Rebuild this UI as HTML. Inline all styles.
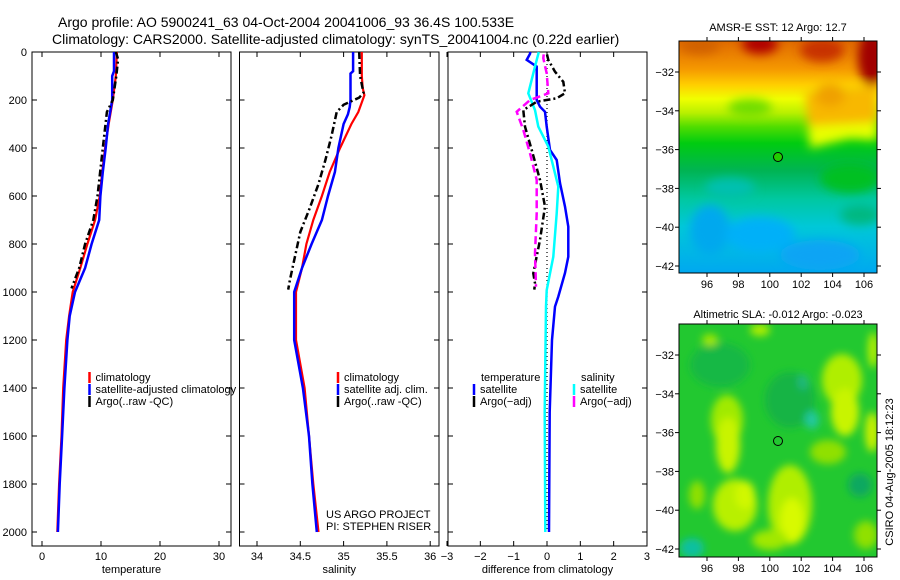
<!DOCTYPE html>
<html><head><meta charset="utf-8">
<style>
html,body{margin:0;padding:0;background:#fff;}
svg{display:block;font-family:"Liberation Sans",sans-serif;}
</style></head>
<body>
<svg id="chart" width="900" height="580" viewBox="0 0 900 580" xmlns="http://www.w3.org/2000/svg">
<defs>
<filter id="blur1" x="-20%" y="-20%" width="140%" height="140%"><feGaussianBlur stdDeviation="5"/></filter>
<filter id="blur2" x="-20%" y="-20%" width="140%" height="140%"><feGaussianBlur stdDeviation="4"/></filter>
<clipPath id="clipM1"><rect x="679" y="41" width="198" height="232"/></clipPath>
<clipPath id="clipM2"><rect x="679" y="324" width="198" height="233"/></clipPath>
<linearGradient id="sstGrad" x1="0" y1="0" x2="0" y2="1">
<stop offset="0" stop-color="#e06a00"/>
<stop offset="0.12" stop-color="#f59800"/>
<stop offset="0.19" stop-color="#ffd000"/>
<stop offset="0.25" stop-color="#f0ff00"/>
<stop offset="0.31" stop-color="#b8f000"/>
<stop offset="0.37" stop-color="#50dd00"/>
<stop offset="0.44" stop-color="#00cc10"/>
<stop offset="0.56" stop-color="#00b454"/>
<stop offset="0.68" stop-color="#00c8a0"/>
<stop offset="0.80" stop-color="#00c8d8"/>
<stop offset="1" stop-color="#00a8f0"/>
</linearGradient>
</defs>

<text x="58" y="27" font-size="14">Argo profile: AO 5900241_63 04-Oct-2004 20041006_93 36.4S 100.533E</text>
<text x="52" y="44" font-size="14">Climatology: CARS2000. Satellite-adjusted climatology: synTS_20041004.nc (0.22d earlier)</text>

<g id="panels"></g>

<!-- SST map -->
<g>
<text x="778" y="31" font-size="11" text-anchor="middle">AMSR-E SST: 12 Argo: 12.7</text>
<g clip-path="url(#clipM1)">
<rect x="679" y="41" width="198" height="232" fill="url(#sstGrad)"/>
<g filter="url(#blur1)">
<ellipse cx="760" cy="44" rx="18" ry="10" fill="#b00000"/>
<ellipse cx="822" cy="50" rx="22" ry="12" fill="#c83000"/>
<ellipse cx="872" cy="58" rx="14" ry="28" fill="#a00000"/>
<ellipse cx="700" cy="46" rx="20" ry="8" fill="#d06000"/>
<polygon points="805,92 877,85 877,128 850,128 820,130 808,125" fill="#f8b800"/>
<ellipse cx="830" cy="95" rx="15" ry="12" fill="#f0a000"/>
<polygon points="808,126 877,122 877,140 850,138 810,148" fill="#e8ff00"/>
<ellipse cx="750" cy="108" rx="22" ry="9" fill="#70dd00"/>
<ellipse cx="730" cy="188" rx="25" ry="10" fill="#00c0b0"/>
<ellipse cx="850" cy="178" rx="30" ry="15" fill="#00c020"/>
<ellipse cx="710" cy="230" rx="20" ry="25" fill="#00a8ee"/>
<ellipse cx="760" cy="235" rx="35" ry="18" fill="#00b0f8"/>
<ellipse cx="860" cy="215" rx="20" ry="10" fill="#00b880"/>
<ellipse cx="820" cy="255" rx="40" ry="15" fill="#0aa4f4"/>
</g>
</g>
<rect x="679" y="41" width="198" height="232" fill="none" stroke="#000" stroke-width="1"/>
<circle cx="778" cy="157" r="4.5" fill="#22cc00" stroke="#000" stroke-width="1"/>
</g>

<!-- SLA map -->
<g>
<text x="778" y="318" font-size="11" text-anchor="middle">Altimetric SLA: -0.012 Argo: -0.023</text>
<g clip-path="url(#clipM2)">
<rect x="679" y="324" width="198" height="233" fill="#22c830"/>
<g filter="url(#blur2)">
<ellipse cx="720" cy="365" rx="30" ry="22" fill="#18b844"/>
<ellipse cx="790" cy="400" rx="25" ry="28" fill="#18b444"/>
<ellipse cx="812" cy="420" rx="7" ry="9" fill="#20c8a0"/>
<ellipse cx="803" cy="382" rx="5" ry="8" fill="#20b880"/>
<ellipse cx="727" cy="420" rx="16" ry="25" fill="#a0ea00"/>
<ellipse cx="728" cy="445" rx="12" ry="28" fill="#c8f400"/>
<ellipse cx="735" cy="505" rx="22" ry="26" fill="#b8f000"/>
<ellipse cx="745" cy="495" rx="10" ry="14" fill="#d0f800"/>
<ellipse cx="790" cy="505" rx="22" ry="40" fill="#b0ee00"/>
<ellipse cx="792" cy="520" rx="12" ry="22" fill="#d8fa00"/>
<ellipse cx="770" cy="540" rx="18" ry="10" fill="#a0e800"/>
<ellipse cx="842" cy="380" rx="20" ry="26" fill="#b0ee00"/>
<ellipse cx="845" cy="412" rx="14" ry="24" fill="#c8f400"/>
<ellipse cx="828" cy="452" rx="18" ry="12" fill="#90e000"/>
<ellipse cx="872" cy="432" rx="7" ry="20" fill="#c8f000"/>
<ellipse cx="873" cy="350" rx="5" ry="18" fill="#b8f000"/>
<ellipse cx="860" cy="485" rx="12" ry="12" fill="#10a860"/>
<ellipse cx="692" cy="548" rx="12" ry="10" fill="#10c0a0"/>
<ellipse cx="697" cy="495" rx="8" ry="14" fill="#90e000"/>
<ellipse cx="866" cy="535" rx="12" ry="14" fill="#90e000"/>
<ellipse cx="710" cy="340" rx="8" ry="6" fill="#a0e800"/>
<ellipse cx="760" cy="330" rx="10" ry="6" fill="#b0ee00"/>
</g>
</g>
<rect x="679" y="324" width="198" height="233" fill="none" stroke="#000" stroke-width="1"/>
<circle cx="778" cy="441" r="4.5" fill="none" stroke="#000" stroke-width="1"/>
</g>
<text transform="translate(893,472) rotate(-90)" font-size="11" text-anchor="middle">CSIRO 04-Aug-2005 18:12:23</text>

<script>
// ---- profile data (depth in dbar) ----
const yTickVals=[0,200,400,600,800,1000,1200,1400,1600,1800,2000];
const tempTicks=[0,10,20,30];
const salTicks=[34,34.5,35,35.5,36];
const diffTicks=[-3,-2,-1,0,1,2,3];

const tempClimDepth=[0,100,200,300,400,500,600,700,800,900,1000,1100,1200,1400,1600,1800,2000];
const tempClimVal=[12.7,12.5,12.0,11.3,10.7,10.2,9.8,9.0,7.7,6.5,5.2,4.6,4.1,3.6,3.3,2.9,2.6];
const tempSatDepth=[0,80,100,200,300,400,500,600,700,800,900,1000,1100,1200,1400,1600,1800,2000];
const tempSatVal=[12.2,12.2,11.9,11.9,11.2,10.8,10.3,9.9,9.7,8.4,7.3,5.6,4.7,4.3,3.8,3.4,3.0,2.7];
const tempArgoDepth=[0,30,100,200,250,400,600,700,800,900,985];
const tempArgoVal=[12.5,12.9,12.6,12.0,11.0,10.3,9.4,8.7,7.3,6.3,5.0];

const salClimDepth=[0,100,150,180,250,300,400,500,600,700,800,900,1000,1200,1400,1600,1800,2000];
const salClimVal=[35.21,35.21,35.22,35.24,35.17,35.09,34.96,34.84,34.75,34.65,34.57,34.52,34.45,34.45,34.55,34.60,34.65,34.71];
const salSatDepth=[0,80,90,200,230,260,300,400,500,600,700,800,900,1000,1200,1400,1600,1800,2000];
const salSatVal=[35.11,35.11,35.08,35.08,35.07,35.05,35.0,34.94,34.90,34.82,34.75,34.63,34.52,34.43,34.43,34.53,34.60,34.64,34.69];
const salArgoDepth=[0,100,170,190,220,250,350,450,550,650,750,850,950,990];
const salArgoVal=[35.18,35.19,35.23,35.18,35.0,34.92,34.86,34.79,34.71,34.61,34.50,34.44,34.38,34.36];

const dTempSatDepth=[0,8,33,61,200,228,249,311,408,450,546,644,728,853,921,1019,1061,1200,1500,2000];
const dTempSatVal=[-0.5,-0.51,-0.61,-0.31,-0.31,-0.21,-0.06,-0.01,0.09,0.29,0.39,0.54,0.64,0.64,0.54,0.34,0.24,0.15,0.08,0.06];
const dSalSatDepth=[0,8,61,172,242,311,394,561,672,853,992,1061,1500,2000];
const dSalSatVal=[-0.25,-0.26,-0.36,-0.56,-0.36,-0.26,0.04,0.34,0.29,0.19,-0.01,-0.03,-0.07,-0.05];
const dTempArgoDepth=[10,33,82,124,172,193,207,242,311,408,533,644,783,922,964,990];
const dTempArgoVal=[0.0,0.04,0.24,0.49,0.54,0.29,-0.31,-0.71,-0.66,-0.46,-0.21,-0.06,-0.21,-0.41,-0.36,-0.38];
const dSalArgoDepth=[10,26,89,172,200,249,325,422,533,672,839,978];
const dSalArgoVal=[-0.1,-0.11,-0.01,0.04,-0.51,-0.91,-0.71,-0.51,-0.31,-0.31,-0.36,-0.33];

const NS="http://www.w3.org/2000/svg";
const root=document.getElementById('panels');
const yD=d=>52+0.24*d;
const xT=t=>42+5.9*t;
const xS=s=>257+86.6*(s-34);
const xDf=v=>547+33.33*v;
const TOP=52,BOT=546;

function mk(tag,attrs,parent){const e=document.createElementNS(NS,tag);for(const k in attrs)e.setAttribute(k,attrs[k]);(parent||root).appendChild(e);return e;}

function panel(name,x0,x1,xs,ticks,fmt,label,showY){
  const g=mk('g',{});
  
  
  const r=mk('rect',{x:x0,y:TOP,width:x1-x0,height:BOT-TOP,fill:'none',stroke:'#000','stroke-width':1},g);
  
  
  yTickVals.forEach(v=>{
    const y=yD(v);
    mk('line',{x1:x0,x2:x0+5,y1:y,y2:y,stroke:'#000'},g);
    mk('line',{x1:x1,x2:x1-5,y1:y,y2:y,stroke:'#000'},g);
    if(showY){const t=mk('text',{x:27,y:y+4,'font-size':11,'text-anchor':'end'},g);t.textContent=v;
      
      }
  });
  ticks.forEach(v=>{
    const x=xs(v);
    mk('line',{x1:x,x2:x,y1:TOP,y2:TOP+5,stroke:'#000'},g);
    mk('line',{x1:x,x2:x,y1:BOT,y2:BOT-5,stroke:'#000'},g);
    const t=mk('text',{x:x,y:560,'font-size':11,'text-anchor':'middle'},g);t.textContent=fmt(v);
    
    
  });
  const tl=mk('text',{x:(x0+x1)/2,y:573,'font-size':11,'text-anchor':'middle'},g);tl.textContent=label;
  
  
  return g;
}
function series(g,name,dep,val,xs,color,w,dash){
  const pts=dep.map((d,i)=>xs(val[i]).toFixed(1)+','+yD(d).toFixed(1)).join(' ');
  const p=mk('polyline',{points:pts,fill:'none',stroke:color,'stroke-width':w,'stroke-linejoin':'miter'},g);
  if(dash)p.setAttribute('stroke-dasharray',dash);
  
  
}
function legend(g,x,y,color,text){
  const l=mk('line',{x1:x,x2:x,y1:y-9,y2:y+2,stroke:color,'stroke-width':2.5},g);
  
  
  if(text){const t=mk('text',{x:x+6,y:y,'font-size':11},g);t.textContent=text;
    
    }
}
function txt(g,x,y,s,name){const t=mk('text',{x:x,y:y,'font-size':11},g);t.textContent=s;
  
  }

const dashArgo='7,3,2,3';
const g1=panel('temperature-panel',32,231,xT,tempTicks,v=>v,'temperature',true);
series(g1,'temp-climatology-line',tempClimDepth,tempClimVal,xT,'#ff0000',2.2);
series(g1,'temp-satellite-line',tempSatDepth,tempSatVal,xT,'#0000ff',2.5);
series(g1,'temp-argo-line',tempArgoDepth,tempArgoVal,xT,'#000',2.5,dashArgo);
legend(g1,89.5,381,'#ff0000','climatology');
legend(g1,89.5,393,'#0000ff','satellite-adjusted climatology');
legend(g1,89.5,405,'#000','Argo(..raw -QC)');

const g2=panel('salinity-panel',239.5,439,xS,salTicks,v=>v,'salinity',false);
series(g2,'sal-climatology-line',salClimDepth,salClimVal,xS,'#ff0000',2.2);
series(g2,'sal-satellite-line',salSatDepth,salSatVal,xS,'#0000ff',2.5);
series(g2,'sal-argo-line',salArgoDepth,salArgoVal,xS,'#000',2.5,dashArgo);
legend(g2,338,381,'#ff0000','climatology');
legend(g2,338,393,'#0000ff','satellite adj. clim.');
legend(g2,338,405,'#000','Argo(..raw -QC)');
txt(g2,326,518,'US ARGO PROJECT','project-label');
txt(g2,326,530,'PI: STEPHEN RISER','pi-label');

const g3=panel('difference-panel',448,647,xDf,diffTicks,v=>v<0?'\u2212'+(-v):v,'difference from climatology',false);
const zl=mk('line',{x1:xDf(0),x2:xDf(0),y1:yD(0),y2:yD(2000),stroke:'#000','stroke-width':1.2,'stroke-dasharray':'1,3'},g3);


series(g3,'diff-temp-satellite-line',dTempSatDepth,dTempSatVal,xDf,'#0000ff',2.5);
series(g3,'diff-sal-satellite-line',dSalSatDepth,dSalSatVal,xDf,'#00ffff',2.5);
series(g3,'diff-temp-argo-line',dTempArgoDepth,dTempArgoVal,xDf,'#000',2.5,dashArgo);
series(g3,'diff-sal-argo-line',dSalArgoDepth,dSalArgoVal,xDf,'#ff00ff',2.5,'8,4');
txt(g3,481,381,'temperature','legend-temperature-header');
legend(g3,474,393,'#0000ff','satellite');
legend(g3,474,405,'#000','Argo(\u2212adj)');
txt(g3,581,381,'salinity','legend-salinity-header');
legend(g3,574,393,'#00ffff','satellite');
legend(g3,574,405,'#ff00ff','Argo(\u2212adj)');

// ---- map axes ----
const mapLon=[96,98,100,102,104,106];
const mapLat=[-32,-34,-36,-38,-40,-42];
function mapAxes(name,yTop,yBot,lat32,lat42){
  const g=mk('g',{});
  
  
  const lx=v=>707+(v-96)*15.7;
  const ly=v=>lat32+(v+32)/(-10)*(lat42-lat32);
  mapLon.forEach(v=>{
    const x=lx(v);
    mk('line',{x1:x,x2:x,y1:yTop-4,y2:yTop,stroke:'#000'},g);
    mk('line',{x1:x,x2:x,y1:yBot,y2:yBot+4,stroke:'#000'},g);
    const t=mk('text',{x:x,y:yBot+15,'font-size':11,'text-anchor':'middle'},g);t.textContent=v;
    
    
  });
  mapLat.forEach(v=>{
    const y=ly(v);
    mk('line',{x1:675,x2:679,y1:y,y2:y,stroke:'#000'},g);
    mk('line',{x1:877,x2:881,y1:y,y2:y,stroke:'#000'},g);
    const t=mk('text',{x:674,y:y+4,'font-size':11,'text-anchor':'end'},g);t.textContent='\u2212'+(-v);
    
    
  });
}
mapAxes('sst-map-axes',41,273,72,266);
mapAxes('sla-map-axes',324,557,355,549);
</script>
</svg>
</body></html>
